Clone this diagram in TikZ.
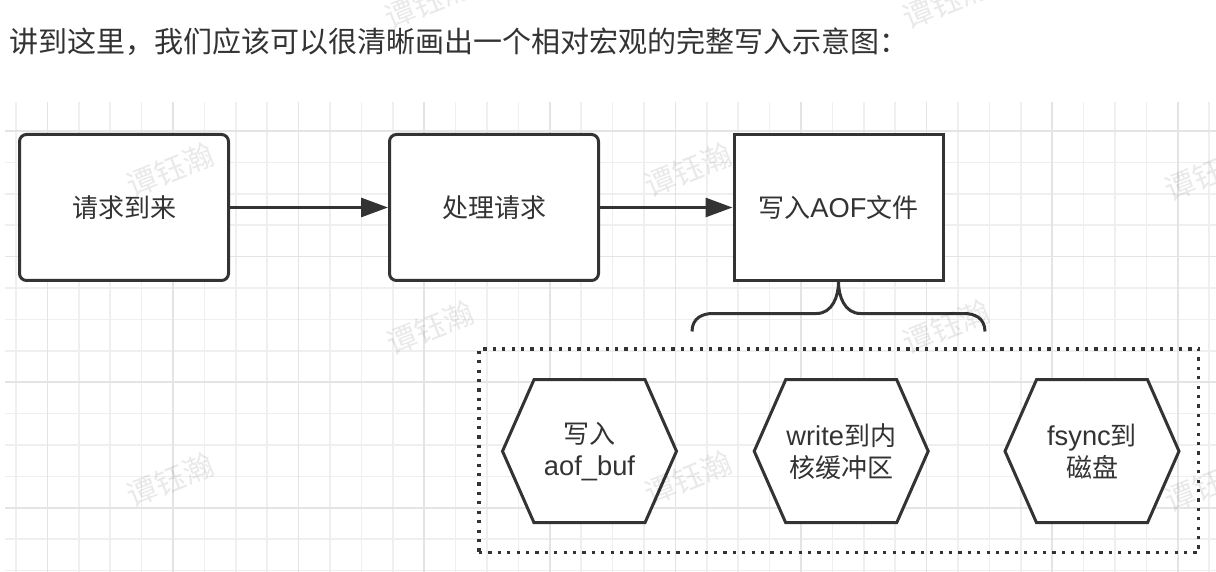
\documentclass[tikz,border=0pt]{standalone}
\usepackage{fontspec}
\setmainfont{Liberation Sans}[Scale=1.05]
\newfontfamily\cjk{Noto Sans CJK SC}
\usetikzlibrary{arrows.meta,calc}
\definecolor{ink}{HTML}{333333}
\definecolor{gridminor}{HTML}{EFEFEF}
\definecolor{gridmajor}{HTML}{E4E4E4}
\tikzset{
  stepbox/.style={draw=ink, line width=3pt, fill=white, minimum width=209pt, minimum height=146pt,
    inner sep=0pt, text=ink, font=\fontsize{26}{31}\selectfont},
  roundbox/.style={stepbox, rounded corners=7pt},
  arr/.style={draw=ink, line width=3pt, -{Triangle[length=27pt,width=19pt]}},
  hexnode/.style={minimum width=174pt, minimum height=143pt, inner sep=0pt, outer sep=0pt,
    align=center, text=ink, font=\fontsize{26}{32}\selectfont},
  hexline/.style={draw=ink, line width=3pt, fill=white, line join=miter},
  grpbox/.style={draw=ink, line width=3.5pt, dash pattern=on 3.2pt off 6.2pt, inner sep=0pt,
    minimum width=719.7pt, minimum height=203.7pt},
  bracepath/.style={draw=ink, line width=3pt},
  wmark/.style={font=\cjk\fontsize{30}{30}\selectfont, text=black, text opacity=0.085, rotate=22, inner sep=0pt},
  gmin/.style={draw=gridminor, line width=1.5pt},
  gmaj/.style={draw=gridmajor, line width=1.5pt}
}
\begin{document}
\begin{tikzpicture}[x=1pt,y=-1pt]
\useasboundingbox (0,0) rectangle (1216,572);
\fill[white] (0,0) rectangle (1216,572);
% grid
\begin{scope}
\clip (5,102) rectangle (1216,572);
\foreach \k in {0,...,38} \draw[gmin] ({16+31.4*\k},102) -- ({16+31.4*\k},572);
\foreach \k in {0,...,14} \draw[gmin] (5,{131+31.4*\k}) -- (1216,{131+31.4*\k});
\foreach \k in {1,5,...,37} \draw[gmaj] ({16+31.4*\k},102) -- ({16+31.4*\k},572);
\foreach \k in {0,4,...,12} \draw[gmaj] (5,{131+31.4*\k}) -- (1216,{131+31.4*\k});
\end{scope}
% title
\node[anchor=west, inner sep=0pt, text=ink, font=\cjk\fontsize{29}{34}\selectfont] (title) at (9,42)
  {讲到这里，我们应该可以很清晰画出一个相对宏观的完整写入示意图：};
% top row
\node[roundbox] (b1) at (124,207.5) {\cjk 请求到来};
\node[roundbox] (b2) at (494,207.5) {\cjk 处理请求};
\node[stepbox] (b3) at (838.5,207.5) {{\cjk 写入}AOF{\cjk 文件}};
\draw[arr] (b1) -- (b2);
\draw[arr] (b2) -- (b3);
% brace
\draw[bracepath] ($(b3.south)+(-146.5,49.5)$) .. controls +(0,-14) and +(-9,0) .. ($(b3.south)+(-126,31.5)$)
  -- ($(b3.south)+(-22,31.5)$) .. controls +(16,0) and +(0,14) .. (b3.south)
  .. controls +(0,14) and +(-16,0) .. ($(b3.south)+(22,31.5)$)
  -- ($(b3.south)+(126,31.5)$) .. controls +(9,0) and +(0,-14) .. ($(b3.south)+(146.5,49.5)$);
% group
\node[grpbox] (grp) at (838.85,450.85) {};
% hexagons
\node[hexnode] (h1) at (589.5,451.2) {};
\node[hexnode] (h2) at (841.2,451.2) {};
\node[hexnode] (h3) at (1092,451.2) {};
\foreach \h in {h1,h2,h3}
  \draw[hexline] (\h.west) -- ([xshift=31.5pt]\h.north west) -- ([xshift=-31.5pt]\h.north east)
    -- (\h.east) -- ([xshift=-31.5pt]\h.south east) -- ([xshift=31.5pt]\h.south west) -- cycle;
\node[hexnode] (t1) at (h1) {{\cjk 写入}\\aof\_buf};
\node[hexnode] (t2) at (h2) {write{\cjk 到内}\\{\cjk 核缓冲区}};
\node[hexnode] (t3) at (h3) {fsync{\cjk 到}\\{\cjk 磁盘}};
% watermarks
\node[wmark] (w1) at (428,2) {谭钰瀚};
\node[wmark] (w2) at (946,2) {谭钰瀚};
\node[wmark] (w3) at (170,170) {谭钰瀚};
\node[wmark] (w4) at (688,170) {谭钰瀚};
\node[wmark] (w5) at (1208,174) {谭钰瀚};
\node[wmark] (w6) at (430,328) {谭钰瀚};
\node[wmark] (w7) at (946,327) {谭钰瀚};
\node[wmark] (w8) at (170,480) {谭钰瀚};
\node[wmark] (w9) at (688,478) {谭钰瀚};
\node[wmark] (w10) at (1208,485) {谭钰瀚};
\end{tikzpicture}
\end{document}
